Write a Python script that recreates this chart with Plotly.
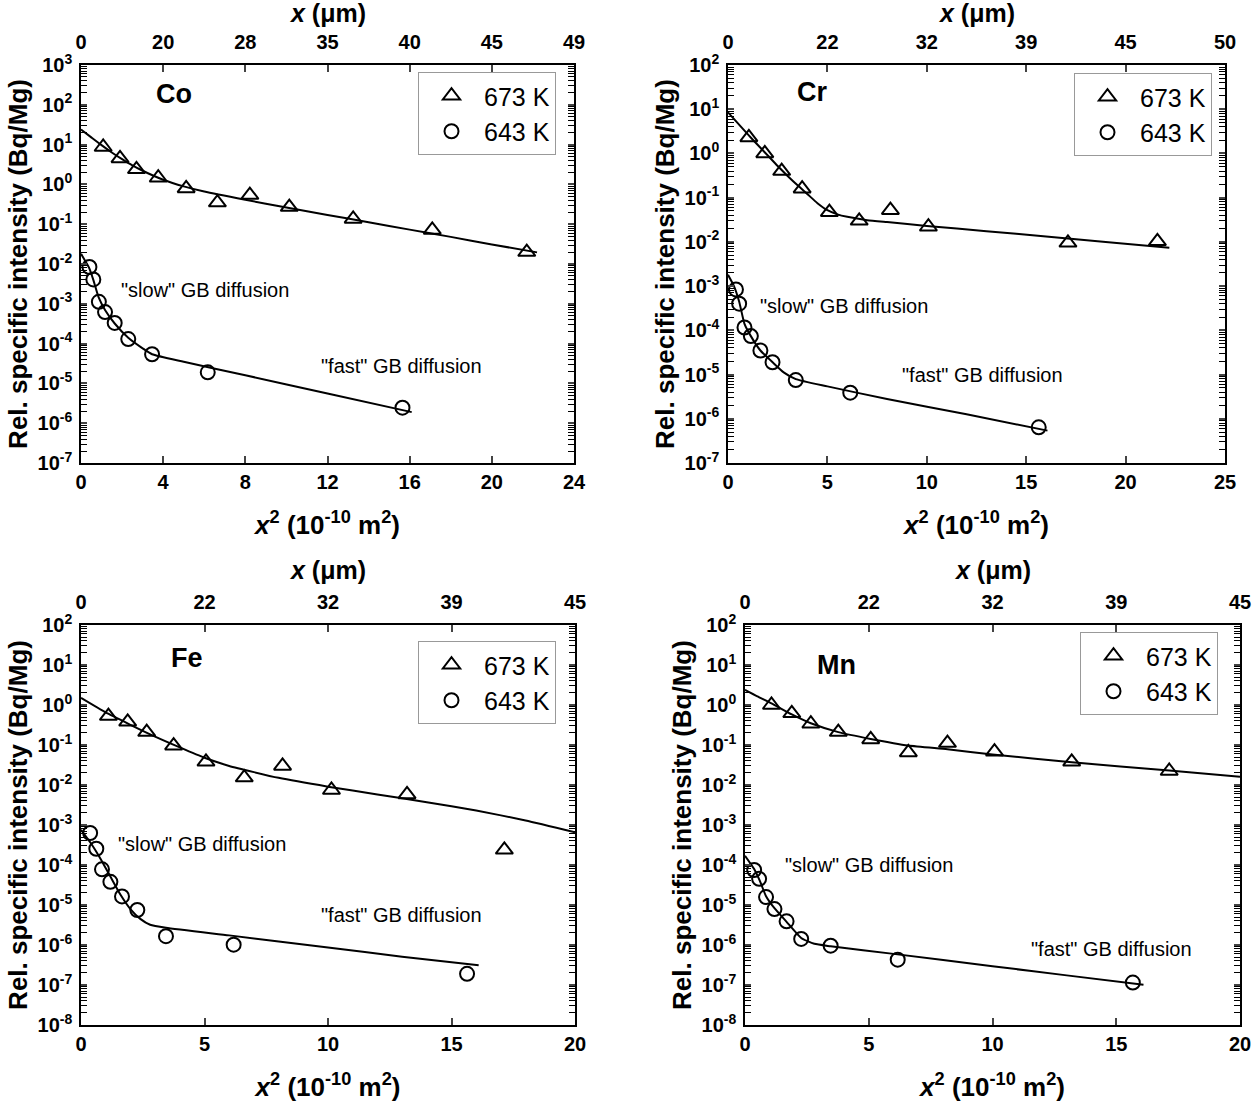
import plotly.graph_objects as go

# ---------------- data ----------------
# Co
CO_673_X = [1.08, 1.90, 2.70, 3.76, 5.12, 6.64, 8.22, 10.14, 13.25, 17.1, 21.7]
CO_673_Y = [8.7, 4.5, 2.4, 1.47, 0.79, 0.35, 0.54, 0.27, 0.136, 0.072, 0.020]
CO_643_X = [0.41, 0.60, 0.87, 1.17, 1.64, 2.30, 3.46, 6.17, 15.65]
CO_643_Y = [8.4e-3, 4.1e-3, 1.12e-3, 6.2e-4, 3.3e-4, 1.3e-4, 5.4e-5, 1.9e-5, 2.45e-6]
CO_FIT673_X = [0, 0.5, 1, 1.5, 2, 2.5, 3, 4, 5, 6, 8, 10, 12, 14, 16, 18, 20, 22.2]
CO_FIT673_Y = [24, 15.2, 9.7, 6.35, 4.3, 3.0, 2.2, 1.31, 0.89, 0.66, 0.41, 0.262, 0.171, 0.112, 0.073, 0.048, 0.031, 0.0196]
CO_FIT643_X = [0, 0.4, 0.6, 0.87, 1.17, 1.64, 2.3, 3.0, 3.46, 5, 8, 12, 16.1]
CO_FIT643_Y = [0.018, 0.0079, 0.004, 1.4e-3, 7e-4, 3.2e-4, 1.4e-4, 7.6e-5, 5.4e-5, 3.5e-5, 1.6e-5, 5.6e-6, 1.9e-6]

# Cr
CR_673_X = [1.05, 1.85, 2.70, 3.73, 5.10, 6.60, 8.17, 10.08, 17.1, 21.6]
CR_673_Y = [2.3, 1.0, 0.40, 0.16, 0.047, 0.030, 0.052, 0.022, 0.0095, 0.0103]
CR_643_X = [0.40, 0.56, 0.83, 1.15, 1.63, 2.24, 3.41, 6.15, 15.63]
CR_643_Y = [8.4e-4, 4.0e-4, 1.16e-4, 7.4e-5, 3.5e-5, 1.9e-5, 7.5e-6, 3.9e-6, 6.4e-7]
CR_FIT673_X = [0, 0.5, 1, 1.5, 2, 2.5, 3, 3.5, 4, 4.5, 5, 5.5, 6, 7, 8, 10, 13, 16, 19, 22.2]
CR_FIT673_Y = [8.5, 4.8, 2.7, 1.55, 0.9, 0.52, 0.31, 0.19, 0.12, 0.075, 0.052, 0.042, 0.037, 0.031, 0.028, 0.023, 0.0175, 0.0132, 0.010, 0.0074]
CR_FIT643_X = [0, 0.3, 0.56, 0.83, 1.15, 1.63, 2.24, 2.8, 3.41, 5, 8, 12, 16.07]
CR_FIT643_Y = [1.8e-3, 1.0e-3, 4.5e-4, 1.4e-4, 7.4e-5, 3.5e-5, 1.9e-5, 1.12e-5, 7.9e-6, 5.4e-6, 2.8e-6, 1.26e-6, 5.4e-7]

# Fe
FE_673_X = [1.11, 1.89, 2.66, 3.75, 5.06, 6.61, 8.16, 10.14, 13.2, 17.14]
FE_673_Y = [0.53, 0.38, 0.21, 0.096, 0.038, 0.0153, 0.030, 0.0075, 0.0058, 2.4e-4]
FE_643_X = [0.37, 0.62, 0.85, 1.19, 1.66, 2.28, 3.44, 6.18, 15.63]
FE_643_Y = [6.3e-4, 2.55e-4, 7.8e-5, 3.8e-5, 1.64e-5, 7.5e-6, 1.66e-6, 1.02e-6, 1.9e-7]
FE_FIT673_X = [0, 1, 2, 3, 4, 5, 6, 7, 8, 10, 12, 14, 16, 18, 20]
FE_FIT673_Y = [1.5, 0.65, 0.32, 0.162, 0.087, 0.048, 0.030, 0.021, 0.0151, 0.0091, 0.0058, 0.0037, 0.0023, 0.0013, 6.6e-4]
FE_FIT643_X = [0, 0.4, 0.8, 1.2, 1.6, 2.0, 2.4, 2.8, 3.44, 6, 10, 13, 16.1]
FE_FIT643_Y = [7.6e-4, 3.5e-4, 1.4e-4, 5e-5, 1.8e-5, 7.9e-6, 4.5e-6, 3.2e-6, 2.7e-6, 1.74e-6, 8.7e-7, 5.1e-7, 3.1e-7]

# Mn
MN_673_X = [1.07, 1.89, 2.66, 3.77, 5.08, 6.60, 8.18, 10.08, 13.2, 17.14]
MN_673_Y = [1.0, 0.62, 0.34, 0.21, 0.138, 0.065, 0.112, 0.068, 0.038, 0.0224]
MN_643_X = [0.37, 0.57, 0.85, 1.19, 1.68, 2.27, 3.46, 6.17, 15.67]
MN_643_Y = [7.5e-5, 4.5e-5, 1.58e-5, 7.9e-6, 3.9e-6, 1.42e-6, 9.6e-7, 4.3e-7, 1.15e-7]
MN_FIT673_X = [0, 0.5, 1.07, 1.89, 2.66, 3.77, 5.08, 6.6, 8.18, 10, 13.2, 17.14, 20]
MN_FIT673_Y = [2.4, 1.65, 1.1, 0.58, 0.35, 0.21, 0.142, 0.097, 0.078, 0.058, 0.037, 0.023, 0.016]
MN_FIT643_X = [0, 0.37, 0.6, 0.85, 1.19, 1.68, 2.27, 2.8, 3.46, 6, 10, 13, 16.1]
MN_FIT643_Y = [1.7e-4, 7.9e-5, 4e-5, 1.66e-5, 8.3e-6, 3.8e-6, 1.5e-6, 1.07e-6, 9.3e-7, 6e-7, 2.95e-7, 1.74e-7, 1.02e-7]

# tick labels
CO_TOP_POS = [0, 4, 8, 12, 16, 20, 24]
CO_TOP_LAB = ["0", "20", "28", "35", "40", "45", "49"]
CR_TOP_POS = [0, 5, 10, 15, 20, 25]
CR_TOP_LAB = ["0", "22", "32", "39", "45", "50"]
FEMN_TOP_POS = [0, 5, 10, 15, 20]
FEMN_TOP_LAB = ["0", "22", "32", "39", "45"]

SERIES_NAMES = ["673 K", "643 K"]

FONT = "Liberation Sans, Arial, sans-serif"

panels = [
    dict(el="Co", p673=(CO_673_X, CO_673_Y), p643=(CO_643_X, CO_643_Y),
         f673=(CO_FIT673_X, CO_FIT673_Y), f643=(CO_FIT643_X, CO_FIT643_Y),
         xr=[0, 24], dx=4, yr=[-7, 3], top=(CO_TOP_POS, CO_TOP_LAB),
         dom_x=[81, 574], dom_y=[65, 463], top_title_y=13,
         lab=(3.53, 2.27), slow=(1.86, -2.66), fast=(11.6, -4.57), leg=(556, 72)),
    dict(el="Cr", p673=(CR_673_X, CR_673_Y), p643=(CR_643_X, CR_643_Y),
         f673=(CR_FIT673_X, CR_FIT673_Y), f643=(CR_FIT643_X, CR_FIT643_Y),
         xr=[0, 25], dx=5, yr=[-7, 2], top=(CR_TOP_POS, CR_TOP_LAB),
         dom_x=[728, 1225], dom_y=[65, 463], top_title_y=13,
         lab=(3.37, 1.38), slow=(1.49, -3.45), fast=(8.63, -5.0), leg=(1212, 73)),
    dict(el="Fe", p673=(FE_673_X, FE_673_Y), p643=(FE_643_X, FE_643_Y),
         f673=(FE_FIT673_X, FE_FIT673_Y), f643=(FE_FIT643_X, FE_FIT643_Y),
         xr=[0, 20], dx=5, yr=[-8, 2], top=(FEMN_TOP_POS, FEMN_TOP_LAB),
         dom_x=[81, 575], dom_y=[625, 1025], top_title_y=570,
         lab=(3.56, 1.17), slow=(1.42, -3.48), fast=(9.63, -5.25), leg=(556, 641)),
    dict(el="Mn", p673=(MN_673_X, MN_673_Y), p643=(MN_643_X, MN_643_Y),
         f673=(MN_FIT673_X, MN_FIT673_Y), f643=(MN_FIT643_X, MN_FIT643_Y),
         xr=[0, 20], dx=5, yr=[-8, 2], top=(FEMN_TOP_POS, FEMN_TOP_LAB),
         dom_x=[745, 1240], dom_y=[625, 1025], top_title_y=570,
         lab=(2.84, 1.0), slow=(1.55, -4.0), fast=(11.47, -6.1), leg=(1218, 632)),
]

W, H = 1257, 1106
fig = go.Figure()
layout = dict(width=W, height=H, margin=dict(l=0, r=0, t=0, b=0),
              paper_bgcolor="white", plot_bgcolor="white",
              font=dict(family=FONT, color="black"), annotations=[])

TICKF = dict(size=20, family=FONT, weight="bold")
TITLEF = dict(size=26, family=FONT, weight="bold")
TOPTITLEF = dict(size=25, family=FONT, weight="bold")

for k, p in enumerate(panels):
    xb = f"x{2*k+1}" if k > 0 else "x"
    xt = f"x{2*k+2}"
    yy = f"y{k+1}" if k > 0 else "y"
    xb_key = "xaxis" if k == 0 else f"xaxis{2*k+1}"
    xt_key = f"xaxis{2*k+2}"
    y_key = "yaxis" if k == 0 else f"yaxis{k+1}"
    leg = "legend" if k == 0 else f"legend{k+1}"

    # fit curves
    for fx, fy in (p["f673"], p["f643"]):
        fig.add_trace(go.Scatter(x=fx, y=fy, mode="lines", xaxis=xb, yaxis=yy,
                                 line=dict(color="black", width=2, shape="spline", smoothing=0.5),
                                 showlegend=False, hoverinfo="skip"))
    # data points
    fig.add_trace(go.Scatter(x=p["p673"][0], y=p["p673"][1], mode="markers", name=SERIES_NAMES[0],
                             xaxis=xb, yaxis=yy, legend=leg,
                             marker=dict(symbol="triangle-up-open", size=15, color="black",
                                         line=dict(width=2, color="black"))))
    fig.add_trace(go.Scatter(x=p["p643"][0], y=p["p643"][1], mode="markers", name=SERIES_NAMES[1],
                             xaxis=xb, yaxis=yy, legend=leg,
                             marker=dict(symbol="circle-open", size=14, color="black",
                                         line=dict(width=2, color="black"))))
    # empty trace to attach the top axis
    fig.add_trace(go.Scatter(x=[], y=[], xaxis=xt, yaxis=yy, showlegend=False, hoverinfo="skip"))

    dx0, dx1 = p["dom_x"]
    dy0, dy1 = p["dom_y"]
    xdom = [dx0 / W, dx1 / W]
    ydom = [1 - dy1 / H, 1 - dy0 / H]

    lo, hi = p["yr"]
    yticks = [10.0 ** e for e in range(lo, hi + 1)]
    ytext = [f"10<sup>{e}</sup>" for e in range(lo, hi + 1)]
    minor_vals = [m * 10.0 ** e for e in range(lo, hi) for m in range(2, 10)]

    layout[xb_key] = dict(domain=xdom, anchor=yy, range=p["xr"], tickmode="linear", tick0=0, dtick=p["dx"],
                          ticks="inside", ticklen=7, tickwidth=1.5, showline=True, linewidth=1.5,
                          linecolor="black", mirror=False, showgrid=False, zeroline=False,
                          tickfont=TICKF,
                          title=dict(text="<i>x</i><sup>2</sup> (10<sup>-10</sup> m<sup>2</sup>)",
                                     font=TITLEF, standoff=24),
                          automargin=False)
    layout[xt_key] = dict(overlaying=xb, side="top", anchor=yy, range=p["xr"], tickmode="array",
                          tickvals=p["top"][0], ticktext=p["top"][1],
                          ticks="inside", ticklen=7, tickwidth=1.5, showline=True, linewidth=1.5,
                          linecolor="black", showgrid=False, zeroline=False,
                          tickfont=TICKF, ticklabelstandoff=6,
                          automargin=False)
    layout[y_key] = dict(domain=ydom, anchor=xb, type="log", range=[lo, hi], tickmode="array",
                         tickvals=yticks, ticktext=ytext, ticks="inside", ticklen=6, tickwidth=1.5,
                         showline=True, linewidth=1.5, linecolor="black", mirror="allticks",
                         showgrid=False, zeroline=False,
                         minor=dict(tickmode="array", tickvals=minor_vals, ticks="inside", ticklen=3,
                                    tickwidth=1, tickcolor="black", showgrid=False),
                         tickfont=TICKF, ticklabelstandoff=3,
                         title=dict(text="Rel. specific intensity (Bq/Mg)", font=TITLEF, standoff=2),
                         automargin=False)

    lx, ly = p["leg"]
    layout[leg] = dict(x=lx / W, y=1 - ly / H, xanchor="right", yanchor="top",
                       bgcolor="white", bordercolor="#999999", borderwidth=1,
                       font=dict(size=25, family=FONT), itemwidth=55, tracegroupgap=0)

    layout["annotations"] += [
        dict(x=(xdom[0] + xdom[1]) / 2, y=1 - p["top_title_y"] / H, xref="paper", yref="paper",
             text="<i>x</i> (μm)", showarrow=False, xanchor="center", yanchor="middle", font=TOPTITLEF),
        dict(x=p["lab"][0], y=p["lab"][1], xref=xb, yref=yy, text=p["el"], showarrow=False,
             xanchor="left", yanchor="middle", font=dict(size=27, family=FONT, weight="bold")),
        dict(x=p["slow"][0], y=p["slow"][1], xref=xb, yref=yy, text='"slow" GB diffusion', showarrow=False,
             xanchor="left", yanchor="middle", font=dict(size=20, family=FONT)),
        dict(x=p["fast"][0], y=p["fast"][1], xref=xb, yref=yy, text='"fast" GB diffusion', showarrow=False,
             xanchor="left", yanchor="middle", font=dict(size=20, family=FONT)),
    ]

fig.update_layout(**layout)
fig.write_html("out.html", config={"displayModeBar": False},
               post_script="document.body.style.margin='0';document.body.style.overflow='hidden';")
